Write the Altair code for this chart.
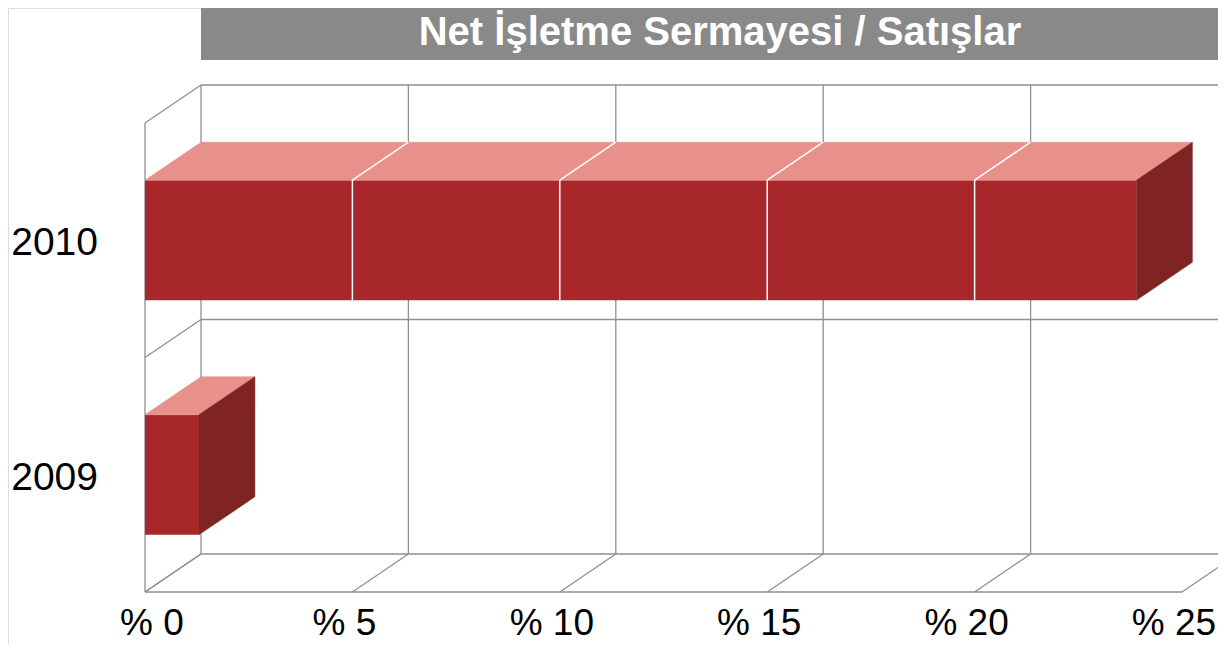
import altair as alt
import pandas as pd

# ---- data ----
YEARS = ["2009", "2010"]
VALUES = [1.3, 23.9]           # percent
TICKS = [0, 5, 10, 15, 20, 25]
TICK_LABELS = ["% 0", "% 5", "% 10", "% 15", "% 20", "% 25"]
TITLE = "Net İşletme Sermayesi / Satışlar"

# ---- style / geometry ----
FRONT = "#A8272A"
TOP = "#E8908A"
SIDE = "#7F2323"
GRID = "#8F8F8F"
TITLE_BG = "#898989"
FONT = "Liberation Sans"

DX = 1.35      # 3D depth offset in % units
DY = 0.162     # 3D depth offset in category units
HALF = 0.256   # half bar thickness (category units)
N = len(YEARS)

W, H = 1210, 637
XDOM = [-3.3028, 25.868]
YDOM = [-0.226, 2.4904]
xs = alt.Scale(domain=XDOM, nice=False, zero=False)
ys = alt.Scale(domain=YDOM, nice=False, zero=False)

# ---- wall / floor segments ----
seg = []
for t in TICKS:
    seg.append((t + DX, DY, t + DX, N + DY))           # back wall vertical grid
    seg.append((t, 0, t + DX, DY))                      # floor diagonals
for k in range(N + 1):
    seg.append((DX, k + DY, XDOM[1] + 5, k + DY))       # back wall horizontals
    seg.append((0, k, DX, k + DY))                      # left wall diagonals
seg.append((0, 0, 0, N))                                # front-left edge
seg.append((0, 0, TICKS[-1], 0))                        # front floor edge
seg_df = pd.DataFrame(seg, columns=["x", "y", "x2", "y2"])

grid = alt.Chart(seg_df).mark_rule(color=GRID, strokeWidth=1.3, clip=True).encode(
    x=alt.X("x:Q", scale=xs, axis=None),
    y=alt.Y("y:Q", scale=ys, axis=None),
    x2="x2:Q", y2="y2:Q",
)

# ---- bars ----
bars = pd.DataFrame({"year": YEARS, "value": VALUES})
bars["c"] = [i + 0.5 for i in range(N)]
bars["y0"] = bars["c"] - HALF
bars["y1"] = bars["c"] + HALF

front = alt.Chart(bars).mark_rect(color=FRONT).encode(
    x=alt.X("zero:Q", scale=xs, axis=None), x2="value:Q",
    y=alt.Y("y0:Q", scale=ys, axis=None), y2="y1:Q",
).transform_calculate(zero="0")

top_rows, side_rows, white = [], [], []
for yr, v, c in zip(YEARS, VALUES, bars["c"]):
    t1 = c + HALF
    b1 = c - HALF
    top_rows.append({"year": yr, "yy": t1, "xa": 0, "xb": v})
    top_rows.append({"year": yr, "yy": t1 + DY, "xa": DX, "xb": v + DX})
    side_rows.append({"year": yr, "xx": v, "ya": b1, "yb": t1})
    side_rows.append({"year": yr, "xx": v + DX, "ya": b1 + DY, "yb": t1 + DY})
    for t in TICKS:
        if 0 < t < v:
            white.append((t, b1, t, t1))
            white.append((t, t1, t + DX, t1 + DY))

top = alt.Chart(pd.DataFrame(top_rows)).mark_area(
    orient="horizontal", color=TOP, stroke=TOP, strokeWidth=0.5
).encode(
    y=alt.Y("yy:Q", scale=ys, axis=None),
    x=alt.X("xa:Q", scale=xs, axis=None), x2="xb:Q",
    detail="year:N",
)
side = alt.Chart(pd.DataFrame(side_rows)).mark_area(
    orient="vertical", color=SIDE, stroke=SIDE, strokeWidth=0.5
).encode(
    x=alt.X("xx:Q", scale=xs, axis=None),
    y=alt.Y("ya:Q", scale=ys, axis=None), y2="yb:Q",
    detail="year:N",
)
white_df = pd.DataFrame(white, columns=["x", "y", "x2", "y2"])
whites = alt.Chart(white_df).mark_rule(color="white", strokeWidth=1.5).encode(
    x=alt.X("x:Q", scale=xs, axis=None),
    y=alt.Y("y:Q", scale=ys, axis=None),
    x2="x2:Q", y2="y2:Q",
)

# ---- labels ----
ylab = alt.Chart(bars).mark_text(
    align="right", baseline="middle", dx=-47, dy=3, fontSize=39, font=FONT, color="black"
).encode(
    x=alt.X("zero:Q", scale=xs, axis=None),
    y=alt.Y("c:Q", scale=ys, axis=None),
    text="year:N",
).transform_calculate(zero="0")

xl_df = pd.DataFrame({"t": TICKS, "label": TICK_LABELS})
xlab_first = alt.Chart(xl_df).transform_filter("datum.t == 0").mark_text(
    align="center", baseline="middle", dx=7, fontSize=37, font=FONT, color="black"
).encode(x=alt.X("t:Q", scale=xs, axis=None), y=alt.value(616), text="label:N")
xlab_rest = alt.Chart(xl_df).transform_filter("datum.t > 0").mark_text(
    align="center", baseline="middle", dx=-8, fontSize=37, font=FONT, color="black"
).encode(x=alt.X("t:Q", scale=xs, axis=None), y=alt.value(616), text="label:N")

one = pd.DataFrame({"title": [TITLE]})
title_bg = alt.Chart(one).mark_rect(color=TITLE_BG).encode(
    x=alt.value(193), x2=alt.value(W), y=alt.value(0), y2=alt.value(52)
)
title_txt = alt.Chart(one).mark_text(
    align="center", baseline="middle", fontSize=40, fontWeight="bold",
    font="Liberation Sans Narrow, " + FONT, color="white"
).encode(x=alt.value(712), y=alt.value(25), text="title:N")

chart = alt.layer(
    grid, front, top, side, whites, ylab, xlab_first, xlab_rest, title_bg, title_txt
).properties(
    width=W, height=H, autosize=alt.AutoSizeParams(type="none"), padding=0
).configure_view(stroke=None, strokeWidth=0).configure(background="white")

chart.save("out.html", embed_options={"renderer": "svg", "actions": False})
